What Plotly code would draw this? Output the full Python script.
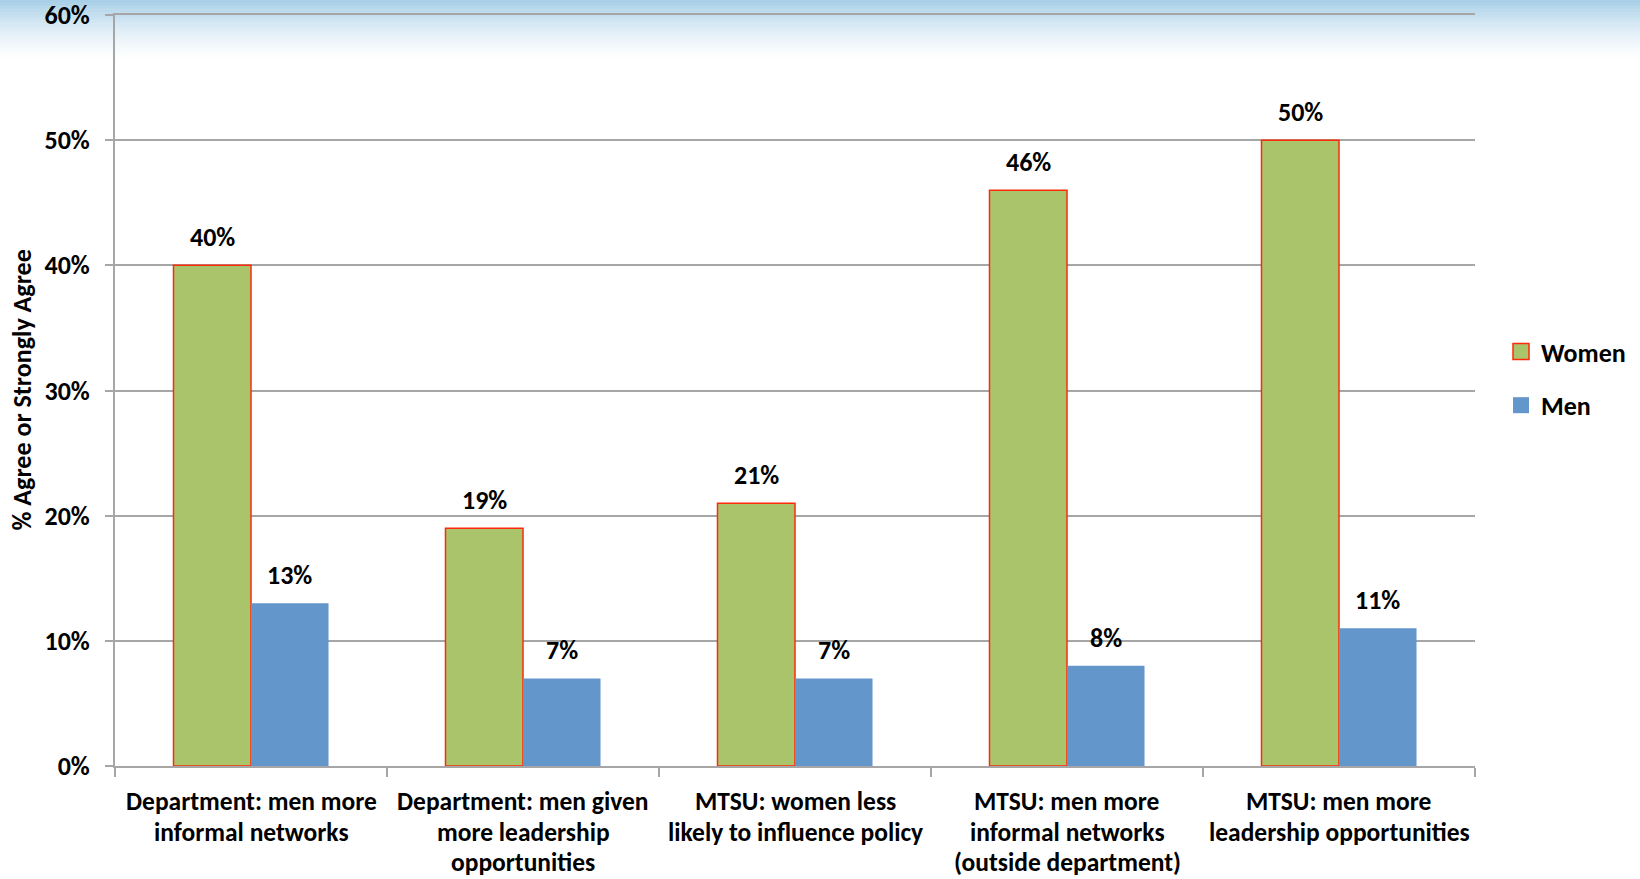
import plotly.graph_objects as go

categories = [
    "Department: men more<br>informal networks",
    "Department: men given<br>more leadership<br>opportunities",
    "MTSU: women less<br>likely to influence policy",
    "MTSU: men more<br>informal networks<br>(outside department)",
    "MTSU: men more<br>leadership opportunities",
]
women = [40, 19, 21, 46, 50]
men = [13, 7, 7, 8, 11]
y_ticks = [0, 10, 20, 30, 40, 50, 60]

FONT = "Carlito, Lato, Arial, sans-serif"
W, H = 1640, 879
L, R, T, B = 115, 165, 15, 113
PW, PH = W - L - R, H - T - B
BARGAP = 0.43
GREEN, BLUE, RED = "#AAC46C", "#6396CB", "#FF2A0A"
GRID = "#A6A6A6"

fig = go.Figure()
fig.add_trace(go.Bar(
    x=categories, y=women, name="Women", showlegend=False,
    marker=dict(color=GREEN, line=dict(color=RED, width=1.5)),
))
fig.add_trace(go.Bar(
    x=categories, y=men, name="Men", showlegend=False,
    marker=dict(color=BLUE, line=dict(width=0)),
))
# legend entries with larger square swatches
fig.add_trace(go.Scatter(x=[None], y=[None], mode="markers", name="Women", legendgroup="w",
                         marker=dict(symbol="square", size=16, color=GREEN,
                                     line=dict(color=RED, width=1.5))))
fig.add_trace(go.Scatter(x=[None], y=[None], mode="markers", name="Men", legendgroup="m",
                         marker=dict(symbol="square", size=16, color=BLUE,
                                     line=dict(width=0))))

# data labels
bw = PW / len(categories) * (1 - BARGAP) / 2
annos = []
for series, shift in ((women, -bw / 2), (men, bw / 2)):
    for c, v in zip(categories, series):
        annos.append(dict(x=c, y=v, text=f"{v}%", showarrow=False, xshift=shift,
                          yanchor="bottom", yshift=10,
                          font=dict(family=FONT, size=26, color="black", weight="bold")))
# category labels (one annotation per line for tight line spacing)
for c in categories:
    for i, line in enumerate(c.split("<br>")):
        annos.append(dict(x=c, y=0, text=line, showarrow=False, borderpad=0,
                          yanchor="middle", yshift=-(35.5 + 30.5 * i),
                          font=dict(family=FONT, size=25.5, color="black", weight="bold")))
# y-axis title
annos.append(dict(text="% Agree or Strongly Agree", textangle=-90, showarrow=False,
                  xref="paper", yref="paper", x=(21 - L) / PW, y=0.5,
                  xanchor="center", yanchor="middle",
                  font=dict(family=FONT, size=26, color="black", weight="bold")))

# top gradient background
shapes = []
n = 40
top_c = (166, 206, 231)
span = 62
for i in range(n):
    py0 = span * i / n
    py1 = span * (i + 1) / n + 0.5
    t = (i + 0.5) / n
    f = (1 - t) ** 1.5
    col = tuple(round(255 - (255 - c) * f) for c in top_c)
    shapes.append(dict(type="rect", xref="paper", yref="paper", layer="below",
                       x0=-L / PW, x1=(W - L) / PW,
                       y0=(H - B - py1) / PH, y1=(H - B - py0) / PH,
                       line=dict(width=0), fillcolor=f"rgb{col}"))

fig.update_layout(
    width=W, height=H,
    margin=dict(l=L, r=R, t=T, b=B, autoexpand=False),
    paper_bgcolor="white", plot_bgcolor="rgba(0,0,0,0)",
    barmode="group", bargap=BARGAP, bargroupgap=0,
    font=dict(family=FONT, color="black"),
    showlegend=True,
    legend=dict(x=(1501 - L) / PW, y=0.516, xanchor="left", yanchor="middle",
                traceorder="grouped", tracegroupgap=17,
                font=dict(family=FONT, size=26, color="black", weight="bold"),
                bgcolor="rgba(0,0,0,0)"),
    annotations=annos,
    shapes=shapes,
    xaxis=dict(
        showline=True, linecolor=GRID, linewidth=2, mirror=True,
        ticks="outside", tickson="boundaries", ticklen=9, tickwidth=2, tickcolor=GRID,
        showticklabels=False, showgrid=False, automargin=False,
    ),
    yaxis=dict(
        range=[0, 60], tickvals=y_ticks, ticktext=[f"{v}%" for v in y_ticks],
        showline=True, linecolor=GRID, linewidth=2,
        showgrid=True, gridcolor=GRID, gridwidth=2,
        ticks="outside", ticklen=8, tickwidth=2, tickcolor=GRID,
        tickfont=dict(family=FONT, size=26, color="black", weight="bold"),
        ticklabelstandoff=10, zeroline=False, automargin=False,
        ticklabeloverflow="allow",
    ),
)

fig.write_html("out.html", config={"displayModeBar": False},
               post_script="document.body.style.margin='0';")
